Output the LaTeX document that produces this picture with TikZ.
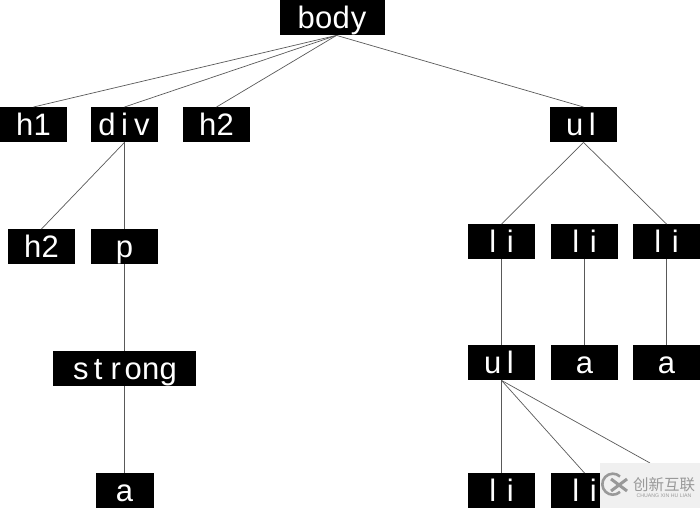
\documentclass[tikz,border=0pt]{standalone}
\usepackage{fontspec}
\setmainfont{Liberation Sans}
\newfontfamily\cjkfont{Noto Sans CJK SC}

% every letter of a tag sits in a cell of the same width
\def\cellrun#1{\ifx#1\relax\else\makebox[17.5pt]{#1}\expandafter\cellrun\fi}
\newcommand{\tagname}[1]{\cellrun#1\relax}

\begin{document}
\begin{tikzpicture}[
                    x=1pt, y=-1pt,
                    tagbox/.style={fill=black, text=white, inner sep=0pt, font=\fontsize{31}{31}\selectfont, minimum width=67pt, text height=28pt, text depth=7pt, anchor=north},
                    wide/.style={minimum width=105pt},
                    narrow/.style={minimum width=58pt},
                    edge/.style={draw=black!65, line width=0.7pt},
                    markbox/.style={fill=black!6, draw=none, inner sep=0pt, minimum width=100pt, minimum height=45pt, anchor=north west},
                    marktext/.style={text=black!40, inner sep=0pt}
                ]
                \useasboundingbox (0,0) rectangle (700,508);

                % tags, row by row
                \node[tagbox, wide] (body) at (332.5,0) {\tagname{body}};

                \node[tagbox] (h1) at (33.5,107) {\tagname{h1}};
                \node[tagbox] (div) at (124.5,107) {\tagname{div}};
                \node[tagbox] (h2) at (216.5,107) {\tagname{h2}};
                \node[tagbox] (ul) at (583.5,107) {\tagname{ul}};

                \node[tagbox] (h2b) at (41.5,229) {\tagname{h2}};
                \node[tagbox] (p) at (124.5,229) {\tagname{p}};
                \node[tagbox] (li1) at (501.5,224) {\tagname{li}};
                \node[tagbox] (li2) at (584.5,224) {\tagname{li}};
                \node[tagbox] (li3) at (666.5,224) {\tagname{li}};

                \node[tagbox, minimum width=143pt] (strong) at (124.5,351) {\tagname{strong}};
                \node[tagbox] (ulb) at (501.5,345) {\tagname{ul}};
                \node[tagbox] (a2) at (584.5,345) {\tagname{a}};
                \node[tagbox] (a3) at (666.5,345) {\tagname{a}};

                \node[tagbox, narrow] (a1) at (124.5,473) {\tagname{a}};
                \node[tagbox] (li4) at (501.5,473) {\tagname{li}};
                \node[tagbox] (li5) at (584.5,473) {\tagname{li}};
                \coordinate (li6) at (650,463);

                % connectors
                \foreach \child in {h1,div,h2,ul}
                    \draw[edge] (body.south) ++(4,0) -- (\child.north);
                \foreach \child in {h2b,p}
                    \draw[edge] (div.south) -- (\child.north);
                \draw[edge] (p.south) -- (strong.north);
                \draw[edge] (strong.south) -- (a1.north);
                \foreach \child in {li1,li3}
                    \draw[edge] (ul.south) -- (\child.north);
                \draw[edge] (li1.south) -- (ulb.north);
                \draw[edge] (li2.south) -- (a2.north);
                \draw[edge] (li3.south) -- (a3.north);
                \foreach \child in {li4,li5}
                    \draw[edge] (ulb.south) -- (\child.north);
                \draw[edge] (ulb.south) -- (li6);

                % mark in the corner
                \node[markbox] (mark) at (600,463) {};
                \draw[black!40, line width=2.6pt] (620,476.5) arc[start angle=47, end angle=313, radius=10.5pt];
                \draw[black!40, line width=3pt] (611,479) -- (627,491) (611,491) -- (627,479);
                \node[marktext, font=\cjkfont\fontsize{15.5}{15.5}\selectfont] (markname) at (664,485) {创新互联};
                \node[marktext, font=\fontsize{5.2}{5.2}\selectfont] (marksub) at (664,495.5) {CHUANG XIN HU LIAN};
\end{tikzpicture}
\end{document}
